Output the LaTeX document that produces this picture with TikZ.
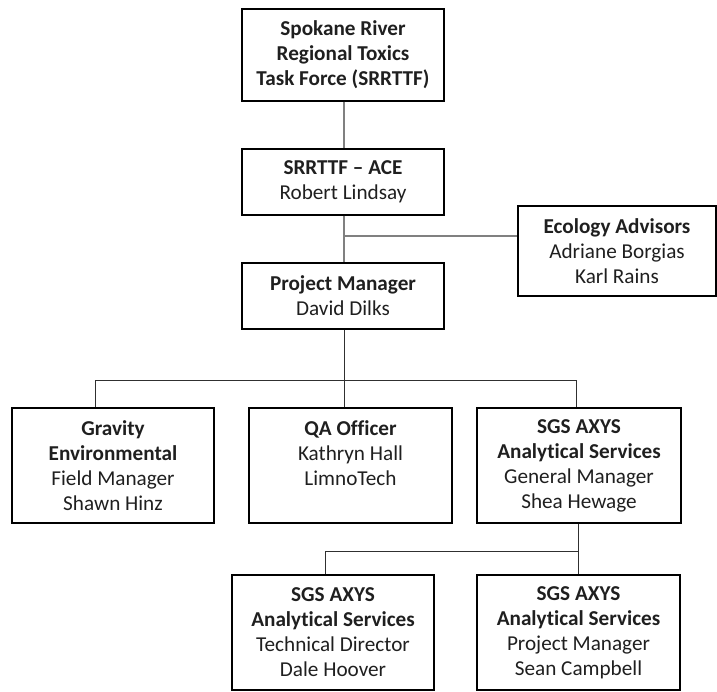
\documentclass[tikz,border=0pt]{standalone}
\usepackage{fontspec}
\setmainfont{Carlito}[Ligatures=NoCommon]
\definecolor{txt}{HTML}{1F1F1F}
\definecolor{upline}{HTML}{808080}
\definecolor{lowline}{HTML}{303030}
\begin{document}
\begin{tikzpicture}[x=1pt,y=-1pt,
  orgbox/.style={draw=black,line width=1.4pt,rectangle,inner sep=0pt,
    align=center,text=txt,font=\fontsize{21.2}{25}\selectfont},
  upconn/.style={draw=upline,line width=1.1pt},
  lowconn/.style={draw=lowline,line width=0.9pt}]
\useasboundingbox (0,0) rectangle (717,692);
\node[orgbox,minimum width=202pt,minimum height=92pt] (tf) at (343,55)
  {\textbf{Spokane River}\\\textbf{Regional Toxics}\\\textbf{Task Force (SRRTTF)}};
\node[orgbox,minimum width=202pt,minimum height=66pt] (ace) at (343,182)
  {\textbf{SRRTTF – ACE}\\Robert Lindsay};
\node[orgbox,minimum width=198pt,minimum height=90pt] (eco) at (617,251)
  {\textbf{Ecology Advisors}\\Adriane Borgias\\Karl Rains};
\node[orgbox,minimum width=202pt,minimum height=66pt] (pm) at (343,296)
  {\textbf{Project Manager}\\David Dilks};
\node[orgbox,minimum width=202pt,minimum height=115pt] (grav) at (113,465.5)
  {\textbf{Gravity}\\\textbf{Environmental}\\Field Manager\\Shawn Hinz};
\node[orgbox,minimum width=203pt,minimum height=115pt] (qa) at (350.5,465.5)
  {\textbf{QA Officer}\\Kathryn Hall\\LimnoTech\\\mbox{}};
\node[orgbox,minimum width=204pt,minimum height=115pt] (sgs) at (579,465.5)
  {\textbf{SGS AXYS}\\\textbf{Analytical Services}\\General Manager\\Shea Hewage};
\node[orgbox,minimum width=202pt,minimum height=115pt] (td) at (333,632.5)
  {\textbf{SGS AXYS}\\\textbf{Analytical Services}\\Technical Director\\Dale Hoover};
\node[orgbox,minimum width=203pt,minimum height=115pt] (spm) at (578.5,632.5)
  {\textbf{SGS AXYS}\\\textbf{Analytical Services}\\Project Manager\\Sean Campbell};
% connectors
\coordinate (j1) at (344,236);
\coordinate (j2) at (344,380);
\coordinate (j3) at (578,551);
\draw[upconn] (tf.south -| j1) -- (ace.north -| j1);
\draw[upconn] (ace.south -| j1) -- (pm.north -| j1);
\draw[upconn] (j1) -- (eco.west |- j1);
\draw[lowconn] (pm.south -| j2) -- (j2);
\draw[lowconn] (95,380) -- (576,380);
\draw[lowconn] (95,380) -- (grav.north -| 95,0);
\draw[lowconn] (j2) -- (qa.north -| j2);
\draw[lowconn] (576,380) -- (sgs.north -| 576,0);
\draw[lowconn] (sgs.south -| j3) -- (spm.north -| j3);
\draw[lowconn] (325,551) -- (j3);
\draw[lowconn] (325,551) -- (td.north -| 325,0);
\end{tikzpicture}
\end{document}
